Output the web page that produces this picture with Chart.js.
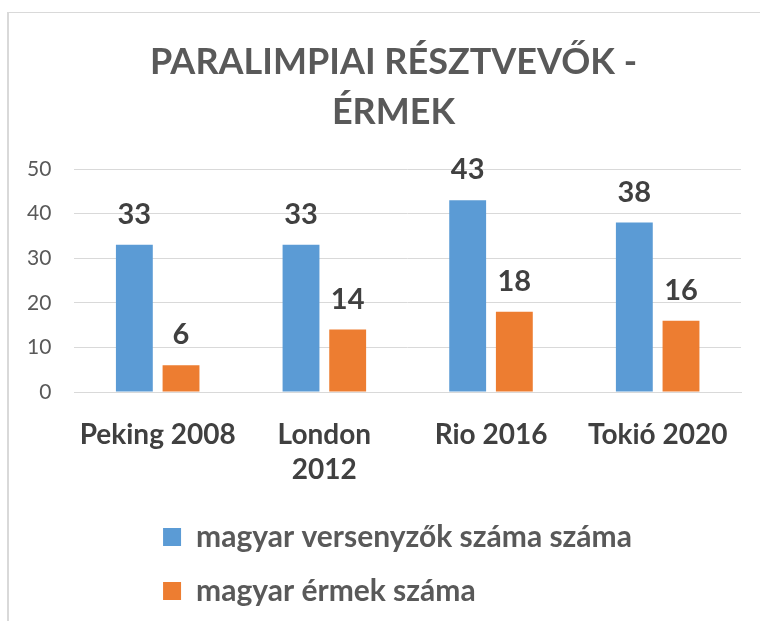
<!DOCTYPE html>
<html>
<head>
<meta charset="utf-8">
<script src="https://cdn.jsdelivr.net/npm/chart.js@4.4.0/dist/chart.umd.min.js"></script>
<style>
  html, body { margin: 0; padding: 0; background: #ffffff; }
  #wrap { position: relative; width: 760px; height: 621px; overflow: hidden; }
  #frame { position: absolute; left: 7px; top: 12px; width: 800px; height: 700px;
           border-left: 2px solid #d9d9d9; border-top: 1px solid #d9d9d9; }
  canvas { position: absolute; left: 0; top: 0; }
</style>
</head>
<body>
<div id="wrap">
  <div id="frame"></div>
  <canvas id="c" width="760" height="621"></canvas>
</div>
<script>
const titleLines = ['PARALIMPIAI RÉSZTVEVŐK -', 'ÉRMEK'];
const categories = ['Peking 2008', ['London', '2012'], 'Rio 2016', 'Tokió 2020'];
const seriesNames = ['magyar versenyzők száma száma', 'magyar érmek száma'];
const competitors = [33, 33, 43, 38];
const medals = [6, 14, 18, 16];
const yTicks = [0, 10, 20, 30, 40, 50];

const FONT = 'Lato, "Open Sans", sans-serif';

const dataLabels = {
  id: 'dataLabels',
  afterDatasetsDraw(chart) {
    const ctx = chart.ctx;
    ctx.save();
    ctx.font = 'bold 29px ' + FONT;
    ctx.fillStyle = '#404040';
    ctx.textAlign = 'center';
    ctx.textBaseline = 'alphabetic';
    chart.data.datasets.forEach((ds, di) => {
      const meta = chart.getDatasetMeta(di);
      meta.data.forEach((bar, i) => {
        ctx.fillText(String(ds.data[i]), bar.x, bar.y - 21);
      });
    });
    ctx.restore();
  }
};

// Aligns the legend rows on a common left edge and nudges title/legend
// to sit centred like the original (which is centred on a wider frame).
const boxNudge = {
  id: 'boxNudge',
  afterLayout(chart) {
    const t = chart.titleBlock;
    if (t) { t.left += 21; t.right += 21; }
    const lg = chart.legend;
    if (lg && lg.lineWidths && lg.lineWidths.length > 1) {
      const m = Math.max(...lg.lineWidths);
      for (let i = 0; i < lg.lineWidths.length; i++) lg.lineWidths[i] = m;
      lg.left += 25; lg.right += 25;
    }
  }
};

new Chart(document.getElementById('c'), {
  type: 'bar',
  data: {
    labels: categories,
    datasets: [
      { label: seriesNames[0], data: competitors, backgroundColor: '#5B9BD5',
        categoryPercentage: 0.56, barPercentage: 0.79 },
      { label: seriesNames[1], data: medals, backgroundColor: '#ED7D31',
        categoryPercentage: 0.56, barPercentage: 0.79 }
    ]
  },
  options: {
    responsive: false,
    animation: false,
    layout: { padding: { left: 4, right: 19, top: 0, bottom: 5 } },
    plugins: {
      title: {
        display: true,
        text: titleLines,
        color: '#595959',
        font: { family: FONT, size: 36, weight: 'bold', lineHeight: 50 / 36 },
        padding: { top: 37, bottom: 32 }
      },
      legend: {
        position: 'bottom',
        align: 'center',
        labels: {
          boxWidth: 18, boxHeight: 18,
          color: '#595959',
          font: { family: FONT, size: 30, weight: 'bold' },
          padding: 24
        }
      },
      tooltip: { enabled: false }
    },
    scales: {
      x: {
        grid: { display: false, drawTicks: false },
        border: { display: true, color: '#d9d9d9' },
        ticks: {
          color: '#404040',
          font: { family: FONT, size: 28, weight: 'bold', lineHeight: 35 / 28 },
          padding: 25,
          maxRotation: 0, autoSkip: false
        },
        afterFit(scale) {
          scale.paddingLeft = 0;
          scale.paddingRight = 0;
          scale.height = 106;
        }
      },
      y: {
        min: yTicks[0], max: yTicks[yTicks.length - 1],
        afterBuildTicks(axis) { axis.ticks = yTicks.map(v => ({ value: v })); },
        grid: { color: '#d9d9d9', drawTicks: false },
        border: { display: false },
        ticks: {
          color: '#595959',
          font: { family: FONT, size: 21 },
          padding: 23
        }
      }
    }
  },
  plugins: [dataLabels, boxNudge]
});
</script>
</body>
</html>
